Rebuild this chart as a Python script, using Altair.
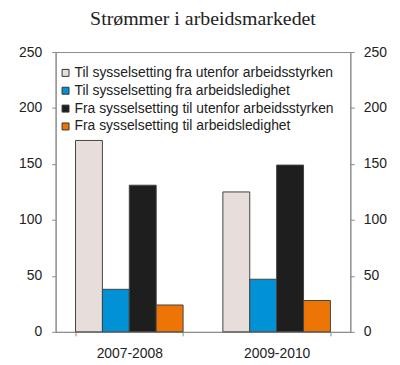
import altair as alt
import pandas as pd

periods = ["2007-2008", "2009-2010"]
series = [
    "Til sysselsetting fra utenfor arbeidsstyrken",
    "Til sysselsetting fra arbeidsledighet",
    "Fra sysselsetting til utenfor arbeidsstyrken",
    "Fra sysselsetting til arbeidsledighet",
]
values_2007 = [171, 38, 131, 24]
values_2009 = [125, 47, 149, 28]
colors = ["#E7DEDB", "#0092D5", "#1E1E1E", "#EC7506"]
y_ticks = [0, 50, 100, 150, 200, 250]

rows = []
for p, vals in zip(periods, [values_2007, values_2009]):
    for s, v in zip(series, vals):
        rows.append({"periode": p, "serie": s, "verdi": v})
df = pd.DataFrame(rows)

font = "Liberation Sans"
axis_color = "#8a8a8a"

x_scale = alt.Scale(paddingInner=0.27, paddingOuter=0.135)
x_enc = alt.X(
    "periode:N",
    sort=periods,
    title=None,
    scale=x_scale,
    axis=alt.Axis(
        labelAngle=0, labelFont=font, labelFontSize=14, labelColor="#222",
        tickBand="extent", tickColor=axis_color, domainColor=axis_color,
        tickSize=4, labelPadding=11,
    ),
)
y_scale = alt.Scale(domain=[0, 250], nice=False)


def y_axis(orient, pad):
    return alt.Axis(
        orient=orient, values=y_ticks, grid=False, labelFont=font,
        labelFontSize=14, labelColor="#222", tickColor=axis_color,
        domainColor=axis_color, tickSize=4, labelPadding=pad,
    )


bars = alt.Chart(df).mark_bar(stroke="#444444", strokeWidth=1).encode(
    x=x_enc,
    xOffset=alt.XOffset("serie:N", sort=series),
    y=alt.Y("verdi:Q", scale=y_scale, title=None, axis=y_axis("left", 10)),
    color=alt.Color(
        "serie:N", sort=series,
        scale=alt.Scale(domain=series, range=colors),
        legend=alt.Legend(
            title=None, orient="none", legendX=3, legendY=14, padding=0,
            labelFont=font, labelFontSize=14, labelColor="#222",
            labelLimit=400,
            symbolType="square", symbolSize=49, symbolStrokeColor="#333",
            symbolStrokeWidth=1, rowPadding=4, labelOffset=2,
        ),
    ),
)

right = alt.Chart(df).mark_tick(opacity=0).encode(
    y=alt.Y("verdi:Q", scale=y_scale, title=None, axis=y_axis("right", 9)),
)

chart = alt.layer(bars, right).resolve_axis(y="independent").properties(
    width=297,
    height=282,
    padding={"left": 10, "top": 0, "right": 5, "bottom": 0},
    title=alt.Title(
        "Strømmer i arbeidsmarkedet", font="Liberation Serif",
        fontSize=20, fontWeight="normal", color="#222", offset=16,
    ),
).configure_view(stroke=axis_color, strokeWidth=1).configure_axis(
    domainWidth=1, tickWidth=1
)

chart.save("out.html", embed_options={"renderer": "svg", "actions": False})
